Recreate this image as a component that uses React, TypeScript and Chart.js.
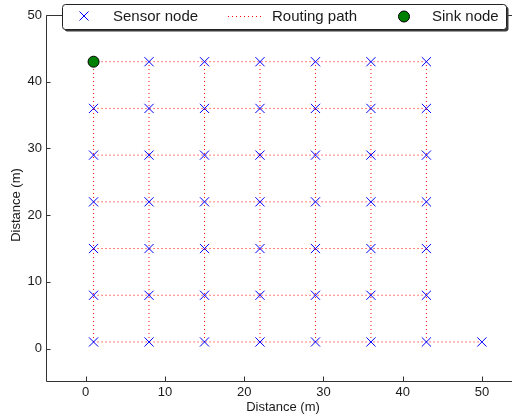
import React, { useEffect, useRef } from "react";
import { Chart, registerables } from "chart.js";

Chart.register(...registerables);

// ---- data ----
const gridX = [1, 8, 15, 22, 29, 36, 43];
const gridY = [1, 8, 15, 22, 29, 36, 43];
const extraSensorX = [50];
const extraSensorY = [1];
const sinkX = [1];
const sinkY = [43];
// routing path segments: rows (horizontal) and columns (vertical)
const rowY = [1, 8, 15, 22, 29, 36, 43];
const rowStartX = [1, 1, 1, 1, 1, 1, 1];
const rowEndX = [50, 43, 43, 43, 43, 43, 43];
const colX = [1, 8, 15, 22, 29, 36, 43];
const colStartY = [1, 1, 1, 1, 1, 1, 1];
const colEndY = [43, 43, 43, 43, 43, 43, 43];
const xTicks = [0, 10, 20, 30, 40, 50];
const yTicks = [0, 10, 20, 30, 40, 50];
const legendLabels = ["Sensor node", "Routing path", "Sink node"];
const xTitle = "Distance (m)";
const yTitle = "Distance (m)";

const FONT = "'Liberation Sans', Arial, Helvetica, sans-serif";
const TEXT = "#1a1a1a";
const AXIS = "#333333";

const framePlugin = {
  id: "framePlugin",
  beforeDatasetsDraw(chart: any) {
    const { ctx, chartArea: a, scales } = chart;
    ctx.save();
    ctx.strokeStyle = AXIS;
    ctx.lineWidth = 1;
    ctx.setLineDash([]);
    const L = Math.round(a.left) + 0.5;
    const B = Math.round(a.bottom) - 0.5;
    const T = Math.round(a.top) + 0.5;
    const R = Math.round(a.right) + 0.5;
    ctx.beginPath();
    ctx.moveTo(R, T);
    ctx.lineTo(L, T);
    ctx.lineTo(L, B);
    ctx.lineTo(R, B);
    ctx.stroke();
    // inward ticks
    ctx.beginPath();
    xTicks.forEach((v) => {
      const px = Math.round(scales.x.getPixelForValue(v)) + 0.5;
      ctx.moveTo(px, B);
      ctx.lineTo(px, B - 5);
      ctx.moveTo(px, T);
      ctx.lineTo(px, T + 5);
    });
    yTicks.forEach((v) => {
      const py = Math.round(scales.y.getPixelForValue(v)) + 0.5;
      ctx.moveTo(L, py);
      ctx.lineTo(L + 4, py);
    });
    ctx.stroke();
    ctx.restore();
  },
  afterDraw(chart: any) {
    const { ctx } = chart;
    ctx.save();
    // axis titles
    ctx.fillStyle = TEXT;
    ctx.font = `13px ${FONT}`;
    ctx.textAlign = "center";
    ctx.textBaseline = "middle";
    ctx.fillText(xTitle, 283, 407);
    ctx.save();
    ctx.translate(16, 205);
    ctx.rotate(-Math.PI / 2);
    ctx.fillText(yTitle, 0, 0);
    ctx.restore();

    // legend box with shadow
    const bx = 62.5, by = 4.5, bw = 444, bh = 25, r = 3;
    const rr = (x: number, y: number, w: number, h: number) => {
      ctx.beginPath();
      ctx.moveTo(x + r, y);
      ctx.lineTo(x + w - r, y);
      ctx.arcTo(x + w, y, x + w, y + r, r);
      ctx.lineTo(x + w, y + h - r);
      ctx.arcTo(x + w, y + h, x + w - r, y + h, r);
      ctx.lineTo(x + r, y + h);
      ctx.arcTo(x, y + h, x, y + h - r, r);
      ctx.lineTo(x, y + r);
      ctx.arcTo(x, y, x + r, y, r);
      ctx.closePath();
    };
    ctx.fillStyle = "#3a3a3a";
    rr(bx + 2, by + 2, bw, bh);
    ctx.fill();
    ctx.fillStyle = "#ffffff";
    rr(bx, by, bw, bh);
    ctx.fill();
    ctx.strokeStyle = "#222222";
    ctx.lineWidth = 1;
    ctx.stroke();

    const cy = 16.5;
    // sensor marker
    ctx.strokeStyle = "#0000ff";
    ctx.beginPath();
    ctx.moveTo(79.5, cy - 5);
    ctx.lineTo(88.5, cy + 4);
    ctx.moveTo(88.5, cy - 5);
    ctx.lineTo(79.5, cy + 4);
    ctx.stroke();
    // routing path sample
    ctx.strokeStyle = "#ff0000";
    ctx.setLineDash([1, 3]);
    ctx.beginPath();
    ctx.moveTo(228, cy);
    ctx.lineTo(261, cy);
    ctx.stroke();
    ctx.setLineDash([]);
    // sink marker
    ctx.fillStyle = "#008000";
    ctx.strokeStyle = "#000000";
    ctx.beginPath();
    ctx.arc(404, cy, 5.5, 0, Math.PI * 2);
    ctx.fill();
    ctx.stroke();

    ctx.fillStyle = TEXT;
    ctx.font = `15px ${FONT}`;
    ctx.textAlign = "left";
    ctx.textBaseline = "middle";
    ctx.fillText(legendLabels[0], 113, cy + 0.5);
    ctx.fillText(legendLabels[1], 272, cy + 0.5);
    ctx.fillText(legendLabels[2], 432, cy + 0.5);
    ctx.restore();
  },
};

export default function App() {
  const ref = useRef<HTMLCanvasElement | null>(null);

  useEffect(() => {
    document.body.style.margin = "0";
    const canvas = ref.current;
    if (!canvas) return;

    const sensorData: { x: number; y: number }[] = [];
    gridY.forEach((y) =>
      gridX.forEach((x) => {
        const isSink = sinkX.some((sx, i) => sx === x && sinkY[i] === y);
        if (!isSink) sensorData.push({ x, y });
      })
    );
    extraSensorX.forEach((x, i) => sensorData.push({ x, y: extraSensorY[i] }));

    const sinkData = sinkX.map((x, i) => ({ x, y: sinkY[i] }));

    const pathStyle = {
      showLine: true,
      borderColor: "#ff0000",
      borderWidth: 1,
      borderDash: [1, 3],
      pointRadius: 0,
      pointHoverRadius: 0,
      fill: false,
      order: 10,
    };

    const rowSets = rowY.map((y, i) => ({
      ...pathStyle,
      label: "Routing path",
      data: [
        { x: rowStartX[i], y },
        { x: rowEndX[i], y },
      ],
    }));
    const colSets = colX.map((x, i) => ({
      ...pathStyle,
      label: "Routing path",
      data: [
        { x, y: colStartY[i] },
        { x, y: colEndY[i] },
      ],
    }));

    const chart = new Chart(canvas, {
      type: "scatter",
      data: {
        datasets: [
          {
            label: "Sink node",
            data: sinkData,
            pointStyle: "circle",
            pointRadius: 5.5,
            backgroundColor: "#008000",
            borderColor: "#000000",
            borderWidth: 1,
            order: 0,
          },
          {
            label: "Sensor node",
            data: sensorData,
            pointStyle: "crossRot",
            pointRadius: 6.5,
            borderColor: "#0000ff",
            backgroundColor: "#0000ff",
            borderWidth: 1,
            order: 1,
          },
          ...rowSets,
          ...colSets,
        ] as any,
      },
      options: {
        responsive: false,
        animation: false,
        devicePixelRatio: 1,
        layout: { autoPadding: false, padding: { top: 15, right: 0, left: 0, bottom: 0 } },
        plugins: {
          legend: { display: false },
          tooltip: { enabled: false },
          title: { display: false },
        },
        scales: {
          x: {
            type: "linear",
            min: -5,
            max: 53.8,
            grid: { display: false, drawTicks: false },
            border: { display: false },
            afterBuildTicks: (s: any) => {
              s.ticks = xTicks.map((v) => ({ value: v }));
            },
            afterFit: (s: any) => {
              s.height = 32;
            },
            ticks: {
              padding: 3,
              color: TEXT,
              font: { family: FONT, size: 13 },
              maxRotation: 0,
              autoSkip: false,
            },
          },
          y: {
            type: "linear",
            min: -5,
            max: 50,
            grid: { display: false, drawTicks: false },
            border: { display: false },
            afterBuildTicks: (s: any) => {
              s.ticks = yTicks.map((v) => ({ value: v }));
            },
            afterFit: (s: any) => {
              s.width = 46;
            },
            ticks: {
              padding: 4,
              color: TEXT,
              font: { family: FONT, size: 13 },
              autoSkip: false,
            },
          },
        },
      } as any,
      plugins: [framePlugin],
    });

    return () => chart.destroy();
  }, []);

  return (
    <div style={{ width: 512, height: 414 }}>
      <canvas ref={ref} width={512} height={414} style={{ display: "block" }} />
    </div>
  );
}
